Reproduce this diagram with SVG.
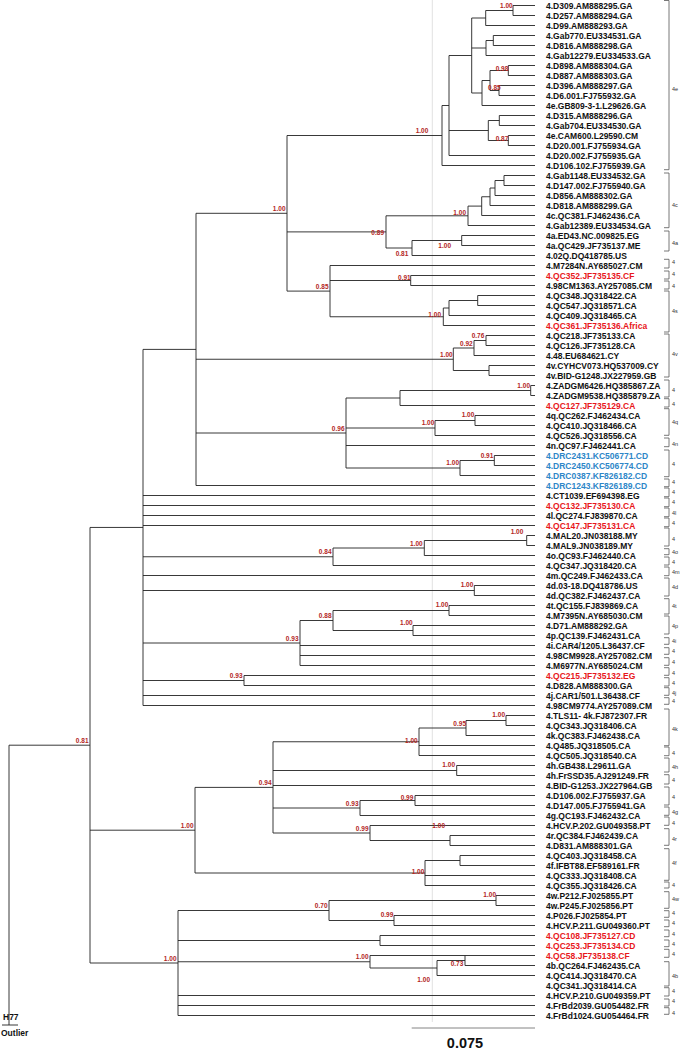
<svg xmlns="http://www.w3.org/2000/svg" width="682" height="1050" viewBox="0 0 682 1050">
<style>
.br{stroke:#222;stroke-width:0.9;fill:none}
.bk{stroke:#555;stroke-width:0.8;fill:none}
.lf{font-family:"Liberation Sans",Arial,sans-serif;font-weight:bold;font-size:8.5px;fill:#111}
.red{fill:#e8161b}
.blue{fill:#2d86c8}
.nl{font-family:"Liberation Sans",Arial,sans-serif;font-weight:bold;font-size:6.5px;fill:#b3261e;text-anchor:end}
.bl{font-family:"Liberation Sans",Arial,sans-serif;font-size:5.5px;fill:#333}
</style>
<rect width="682" height="1050" fill="#fff"/>
<line x1="432.3" y1="0" x2="432.3" y2="1022" stroke="#ccc" stroke-width="0.6"/>
<g id="connectors">
<path class="br" d="M513,5.5V15.5M513,5.5H535M513,15.5H535M485.7,10.5H513
M485.7,10.5V25.5M485.7,25.5H535M471.7,18H485.7
M493.3,35.5V45.5M493.3,35.5H535M493.3,45.5H535M486,40.5H493.3
M486,40.5V55.5M486,55.5H535M471.7,48H486
M508.3,65.5V75.5M508.3,65.5H535M508.3,75.5H535M490,70.5H508.3
M499,85.5V95.5M499,85.5H535M499,95.5H535M490,90.5H499
M490,70.5V90.5M482,80.5H490
M482,80.5V105.5M482,105.5H535M471.7,93H482
M471.7,18V93M449,55.5H471.7
M499.3,115.5V125.5M499.3,115.5H535M499.3,125.5H535M488.3,120.5H499.3
M508.3,135.5V145.5M508.3,135.5H535M508.3,145.5H535M488.3,140.5H508.3
M488.3,120.5V140.5M449,130.5H488.3
M449,55.5V155.5M449,155.5H535M442,105.5H449
M442,105.5V165.5M442,165.5H535M287,135.5H442
M504,175.5V185.5M504,175.5H535M504,185.5H535M495,180.5H504
M495,180.5V195.5M495,195.5H535M490,188H495
M490,188V205.5M490,205.5H535M481.7,196.75H490
M481.7,196.75V215.5M481.7,215.5H535M468,206.1H481.7
M468,206.1V225.5M468,225.5H535M386,215.8H468
M461.7,235.5V245.5M461.7,235.5H535M461.7,245.5H535M412,240.5H461.7
M412,240.5V255.5M412,255.5H535M386,248H412
M386,215.8V248M287,231.9H386
M287,135.5V291.1M287,291.1H330M196,213.3H287
M330,265.5V316.75M330,265.5H535
M410.7,275.5V285.5M410.7,275.5H535M410.7,285.5H535M330,280.5H410.7
M477.7,295.5V305.5M477.7,295.5H535M477.7,305.5H535M449,300.5H477.7
M449,300.5V315.5M449,315.5H535M443.3,308H449
M443.3,308V325.5M443.3,325.5H535M330,316.75H443.3
M486,335.5V345.5M486,335.5H535M486,345.5H535M474,340.5H486
M474,340.5V355.5M474,355.5H535M453.3,348H474
M489,365.5V375.5M489,365.5H535M489,375.5H535M453.3,370.5H489
M453.3,348V370.5M196,359.25H453.3
M530.7,385.5V395.5M530.7,385.5H535M530.7,395.5H535M400,390.5H530.7
M400,390.5V405.5M400,405.5H535M346,398H400
M475,415.5V425.5M475,415.5H535M475,425.5H535M435,420.5H475
M435,420.5V435.5M435,435.5H535M346,428H435
M346,445.5H535
M494.3,455.5V465.5M494.3,455.5H535M494.3,465.5H535M460,460.5H494.3
M460,460.5V475.5M460,475.5H535M346,468H460
M346,398V468M196,433H346
M196,485.5H535
M196,213.3V485.5M143,349.4H196
M143,495.5H535M143,505.5H535M143,515.5H535M143,525.5H535
M526.7,535.5V545.5M526.7,535.5H535M526.7,545.5H535M424.3,540.5H526.7
M424.3,540.5V555.5M424.3,555.5H535M333,548H424.3
M333,548V565.5M333,565.5H535M143,556.75H333
M143,575.5H535
M474.3,585.5V595.5M474.3,585.5H535M474.3,595.5H535M143,590.5H474.3
M449,605.5V615.5M449,605.5H535M449,615.5H535M333,610.5H449
M413,625.5V635.5M413,625.5H535M413,635.5H535M333,630.5H413
M333,610.5V630.5M300,620.5H333
M300,620.5V665.5M300,645.5H535M300,655.5H535M300,665.5H535M143,643H300
M244,675.5V685.5M244,675.5H535M244,685.5H535M143,680.5H244
M143,695.5H535M143,705.5H535
M143,349.4V705.5M90,527.45H143
M506,715.5V725.5M506,715.5H535M506,725.5H535M466,720.5H506
M466,720.5V735.5M466,735.5H535M419,728H466
M419,728V755.5M419,745.5H535M419,755.5H535M273,741.75H419
M456.7,765.5V775.5M456.7,765.5H535M456.7,775.5H535M273,770.5H456.7
M273,785.5H535
M415,795.5V805.5M415,795.5H535M415,805.5H535M360,800.5H415
M360,800.5V815.5M360,815.5H535M273,808H360
M450,835.5V845.5M450,835.5H535M450,845.5H535M370,840.5H450
M370,825.5V840.5M370,825.5H535M273,833H370
M273,741.75V833M195,787.4H273
M460,855.5V865.5M460,855.5H535M460,865.5H535M425,860.5H460
M425,860.5V885.5M425,875.5H535M425,885.5H535M195,873H425
M195,787.4V873M90,830.2H195
M496,895.5V905.5M496,895.5H535M496,905.5H535M329,900.5H496
M394,915.5V925.5M394,915.5H535M394,925.5H535M329,920.5H394
M329,900.5V920.5M178,910.5H329
M380,935.5V945.5M380,935.5H535M380,945.5H535M178,940.5H380
M465,955.5V965.5M465,965.5H535M437,960.5H465
M437,960.5V975.5M437,975.5H535M370,968H437
M370,955.5V968M370,955.5H535M178,961.75H370
M178,995.5H535M178,1005.5H535M178,1015.5H535
M178,910.5V1015.5M90,963H178
M90,527.45V963M9,745.2H90
M9,745.2V1025M2,1025H18"/>
<path d="M411.7,1028H535" stroke="#777" stroke-width="0.9"/>
</g>
<g id="support-labels">
<text class="nl" x="512.7" y="7.8">1.00</text>
<text class="nl" x="508.3" y="71.2">0.98</text>
<text class="nl" x="500.7" y="89.8">0.85</text>
<text class="nl" x="508.3" y="140.5">0.87</text>
<text class="nl" x="428.3" y="133.2">1.00</text>
<text class="nl" x="466" y="215.2">1.00</text>
<text class="nl" x="384" y="235.2">0.89</text>
<text class="nl" x="451" y="247.5">1.00</text>
<text class="nl" x="408.3" y="255.8">0.81</text>
<text class="nl" x="410.7" y="279.8">0.91</text>
<text class="nl" x="441" y="316.5">1.00</text>
<text class="nl" x="484.3" y="338">0.76</text>
<text class="nl" x="472.7" y="345.8">0.92</text>
<text class="nl" x="452.7" y="357.2">1.00</text>
<text class="nl" x="530" y="387.8">1.00</text>
<text class="nl" x="474.3" y="417.2">1.00</text>
<text class="nl" x="434.3" y="425.2">1.00</text>
<text class="nl" x="493.3" y="457.5">0.91</text>
<text class="nl" x="459" y="465.2">1.00</text>
<text class="nl" x="523.3" y="533.8">1.00</text>
<text class="nl" x="422.7" y="545.5">1.00</text>
<text class="nl" x="473.3" y="586.5">1.00</text>
<text class="nl" x="448.3" y="606.5">1.00</text>
<text class="nl" x="412.7" y="625.2">1.00</text>
<text class="nl" x="505" y="717.2">1.00</text>
<text class="nl" x="466" y="725.5">0.95</text>
<text class="nl" x="417.7" y="743.2">1.00</text>
<text class="nl" x="455" y="767.2">1.00</text>
<text class="nl" x="413.3" y="799.5">0.99</text>
<text class="nl" x="445" y="827.8">1.00</text>
<text class="nl" x="424.3" y="873.8">1.00</text>
<text class="nl" x="496" y="896.5">1.00</text>
<text class="nl" x="393.3" y="916.5">0.99</text>
<text class="nl" x="463.3" y="965.8">0.73</text>
<text class="nl" x="430" y="981.8">1.00</text>
<text class="nl" x="285.5" y="210.8">1.00</text>
<text class="nl" x="328.5" y="288.6">0.85</text>
<text class="nl" x="344.5" y="430.5">0.96</text>
<text class="nl" x="331.5" y="554.3">0.84</text>
<text class="nl" x="331.5" y="618">0.88</text>
<text class="nl" x="298.5" y="640.5">0.93</text>
<text class="nl" x="242.5" y="678">0.93</text>
<text class="nl" x="88.5" y="742.7">0.81</text>
<text class="nl" x="271.5" y="784.9">0.94</text>
<text class="nl" x="358.5" y="805.5">0.93</text>
<text class="nl" x="368.5" y="830.5">0.99</text>
<text class="nl" x="193.5" y="827.7">1.00</text>
<text class="nl" x="327.5" y="908">0.70</text>
<text class="nl" x="368.5" y="959.3">1.00</text>
<text class="nl" x="176.5" y="960.5">1.00</text>
</g>
<g id="leaves">
<g id="n1"><text class="lf" x="546" y="8.5">4.D309.AM888295.GA</text></g>
<g id="n2"><text class="lf" x="546" y="18.5">4.D257.AM888294.GA</text></g>
<g id="n3"><text class="lf" x="546" y="28.5">4.D99.AM888293.GA</text></g>
<g id="n4"><text class="lf" x="546" y="38.5">4.Gab770.EU334531.GA</text></g>
<g id="n5"><text class="lf" x="546" y="48.5">4.D816.AM888298.GA</text></g>
<g id="n6"><text class="lf" x="546" y="58.5">4.Gab12279.EU334533.GA</text></g>
<g id="n7"><text class="lf" x="546" y="68.5">4.D898.AM888304.GA</text></g>
<g id="n8"><text class="lf" x="546" y="78.5">4.D887.AM888303.GA</text></g>
<g id="n9"><text class="lf" x="546" y="88.5">4.D396.AM888297.GA</text></g>
<g id="n10"><text class="lf" x="546" y="98.5">4.D6.001.FJ755932.GA</text></g>
<g id="n11"><text class="lf" x="546" y="108.5">4e.GB809-3-1.L29626.GA</text></g>
<g id="n12"><text class="lf" x="546" y="118.5">4.D315.AM888296.GA</text></g>
<g id="n13"><text class="lf" x="546" y="128.5">4.Gab704.EU334530.GA</text></g>
<g id="n14"><text class="lf" x="546" y="138.5">4e.CAM600.L29590.CM</text></g>
<g id="n15"><text class="lf" x="546" y="148.5">4.D20.001.FJ755934.GA</text></g>
<g id="n16"><text class="lf" x="546" y="158.5">4.D20.002.FJ755935.GA</text></g>
<g id="n17"><text class="lf" x="546" y="168.5">4.D106.102.FJ755939.GA</text></g>
<g id="n18"><text class="lf" x="546" y="178.5">4.Gab1148.EU334532.GA</text></g>
<g id="n19"><text class="lf" x="546" y="188.5">4.D147.002.FJ755940.GA</text></g>
<g id="n20"><text class="lf" x="546" y="198.5">4.D856.AM888302.GA</text></g>
<g id="n21"><text class="lf" x="546" y="208.5">4.D818.AM888299.GA</text></g>
<g id="n22"><text class="lf" x="546" y="218.5">4c.QC381.FJ462436.CA</text></g>
<g id="n23"><text class="lf" x="546" y="228.5">4.Gab12389.EU334534.GA</text></g>
<g id="n24"><text class="lf" x="546" y="238.5">4a.ED43.NC.009825.EG</text></g>
<g id="n25"><text class="lf" x="546" y="248.5">4a.QC429.JF735137.ME</text></g>
<g id="n26"><text class="lf" x="546" y="258.5">4.02Q.DQ418785.US</text></g>
<g id="n27"><text class="lf" x="546" y="268.5">4.M7284N.AY685027.CM</text></g>
<g id="n28"><text class="lf red" x="546" y="278.5">4.QC352.JF735135.CF</text></g>
<g id="n29"><text class="lf" x="546" y="288.5">4.98CM1363.AY257085.CM</text></g>
<g id="n30"><text class="lf" x="546" y="298.5">4.QC348.JQ318422.CA</text></g>
<g id="n31"><text class="lf" x="546" y="308.5">4.QC547.JQ318571.CA</text></g>
<g id="n32"><text class="lf" x="546" y="318.5">4.QC409.JQ318465.CA</text></g>
<g id="n33"><text class="lf red" x="546" y="328.5">4.QC361.JF735136.Africa</text></g>
<g id="n34"><text class="lf" x="546" y="338.5">4.QC218.JF735133.CA</text></g>
<g id="n35"><text class="lf" x="546" y="348.5">4.QC126.JF735128.CA</text></g>
<g id="n36"><text class="lf" x="546" y="358.5">4.48.EU684621.CY</text></g>
<g id="n37"><text class="lf" x="546" y="368.5">4v.CYHCV073.HQ537009.CY</text></g>
<g id="n38"><text class="lf" x="546" y="378.5">4v.BID-G1248.JX227959.GB</text></g>
<g id="n39"><text class="lf" x="546" y="388.5">4.ZADGM6426.HQ385867.ZA</text></g>
<g id="n40"><text class="lf" x="546" y="398.5">4.ZADGM9538.HQ385879.ZA</text></g>
<g id="n41"><text class="lf red" x="546" y="408.5">4.QC127.JF735129.CA</text></g>
<g id="n42"><text class="lf" x="546" y="418.5">4q.QC262.FJ462434.CA</text></g>
<g id="n43"><text class="lf" x="546" y="428.5">4.QC410.JQ318466.CA</text></g>
<g id="n44"><text class="lf" x="546" y="438.5">4.QC526.JQ318556.CA</text></g>
<g id="n45"><text class="lf" x="546" y="448.5">4n.QC97.FJ462441.CA</text></g>
<g id="n46"><text class="lf blue" x="546" y="458.5">4.DRC2431.KC506771.CD</text></g>
<g id="n47"><text class="lf blue" x="546" y="468.5">4.DRC2450.KC506774.CD</text></g>
<g id="n48"><text class="lf blue" x="546" y="478.5">4.DRC0387.KF826182.CD</text></g>
<g id="n49"><text class="lf blue" x="546" y="488.5">4.DRC1243.KF826189.CD</text></g>
<g id="n50"><text class="lf" x="546" y="498.5">4.CT1039.EF694398.EG</text></g>
<g id="n51"><text class="lf red" x="546" y="508.5">4.QC132.JF735130.CA</text></g>
<g id="n52"><text class="lf" x="546" y="518.5">4l.QC274.FJ839870.CA</text></g>
<g id="n53"><text class="lf red" x="546" y="528.5">4.QC147.JF735131.CA</text></g>
<g id="n54"><text class="lf" x="546" y="538.5">4.MAL20.JN038188.MY</text></g>
<g id="n55"><text class="lf" x="546" y="548.5">4.MAL9.JN038189.MY</text></g>
<g id="n56"><text class="lf" x="546" y="558.5">4o.QC93.FJ462440.CA</text></g>
<g id="n57"><text class="lf" x="546" y="568.5">4.QC347.JQ318420.CA</text></g>
<g id="n58"><text class="lf" x="546" y="578.5">4m.QC249.FJ462433.CA</text></g>
<g id="n59"><text class="lf" x="546" y="588.5">4d.03-18.DQ418786.US</text></g>
<g id="n60"><text class="lf" x="546" y="598.5">4d.QC382.FJ462437.CA</text></g>
<g id="n61"><text class="lf" x="546" y="608.5">4t.QC155.FJ839869.CA</text></g>
<g id="n62"><text class="lf" x="546" y="618.5">4.M7395N.AY685030.CM</text></g>
<g id="n63"><text class="lf" x="546" y="628.5">4.D71.AM888292.GA</text></g>
<g id="n64"><text class="lf" x="546" y="638.5">4p.QC139.FJ462431.CA</text></g>
<g id="n65"><text class="lf" x="546" y="648.5">4i.CAR4/1205.L36437.CF</text></g>
<g id="n66"><text class="lf" x="546" y="658.5">4.98CM9928.AY257082.CM</text></g>
<g id="n67"><text class="lf" x="546" y="668.5">4.M6977N.AY685024.CM</text></g>
<g id="n68"><text class="lf red" x="546" y="678.5">4.QC215.JF735132.EG</text></g>
<g id="n69"><text class="lf" x="546" y="688.5">4.D828.AM888300.GA</text></g>
<g id="n70"><text class="lf" x="546" y="698.5">4j.CAR1/501.L36438.CF</text></g>
<g id="n71"><text class="lf" x="546" y="708.5">4.98CM9774.AY257089.CM</text></g>
<g id="n72"><text class="lf" x="546" y="718.5">4.TLS11- 4k.FJ872307.FR</text></g>
<g id="n73"><text class="lf" x="546" y="728.5">4.QC343.JQ318406.CA</text></g>
<g id="n74"><text class="lf" x="546" y="738.5">4k.QC383.FJ462438.CA</text></g>
<g id="n75"><text class="lf" x="546" y="748.5">4.Q485.JQ318505.CA</text></g>
<g id="n76"><text class="lf" x="546" y="758.5">4.QC505.JQ318540.CA</text></g>
<g id="n77"><text class="lf" x="546" y="768.5">4h.GB438.L29611.GA</text></g>
<g id="n78"><text class="lf" x="546" y="778.5">4h.FrSSD35.AJ291249.FR</text></g>
<g id="n79"><text class="lf" x="546" y="788.5">4.BID-G1253.JX227964.GB</text></g>
<g id="n80"><text class="lf" x="546" y="798.5">4.D106.002.FJ755937.GA</text></g>
<g id="n81"><text class="lf" x="546" y="808.5">4.D147.005.FJ755941.GA</text></g>
<g id="n82"><text class="lf" x="546" y="818.5">4g.QC193.FJ462432.CA</text></g>
<g id="n83"><text class="lf" x="546" y="828.5">4.HCV.P.202.GU049358.PT</text></g>
<g id="n84"><text class="lf" x="546" y="838.5">4r.QC384.FJ462439.CA</text></g>
<g id="n85"><text class="lf" x="546" y="848.5">4.D831.AM888301.GA</text></g>
<g id="n86"><text class="lf" x="546" y="858.5">4.QC403.JQ318458.CA</text></g>
<g id="n87"><text class="lf" x="546" y="868.5">4f.IFBT88.EF589161.FR</text></g>
<g id="n88"><text class="lf" x="546" y="878.5">4.QC333.JQ318408.CA</text></g>
<g id="n89"><text class="lf" x="546" y="888.5">4.QC355.JQ318426.CA</text></g>
<g id="n90"><text class="lf" x="546" y="898.5">4w.P212.FJ025855.PT</text></g>
<g id="n91"><text class="lf" x="546" y="908.5">4w.P245.FJ025856.PT</text></g>
<g id="n92"><text class="lf" x="546" y="918.5">4.P026.FJ025854.PT</text></g>
<g id="n93"><text class="lf" x="546" y="928.5">4.HCV.P.211.GU049360.PT</text></g>
<g id="n94"><text class="lf red" x="546" y="938.5">4.QC108.JF735127.CD</text></g>
<g id="n95"><text class="lf red" x="546" y="948.5">4.QC253.JF735134.CD</text></g>
<g id="n96"><text class="lf red" x="546" y="958.5">4.QC58.JF735138.CF</text></g>
<g id="n97"><text class="lf" x="546" y="968.5">4b.QC264.FJ462435.CA</text></g>
<g id="n98"><text class="lf" x="546" y="978.5">4.QC414.JQ318470.CA</text></g>
<g id="n99"><text class="lf" x="546" y="988.5">4.QC341.JQ318414.CA</text></g>
<g id="n100"><text class="lf" x="546" y="998.5">4.HCV.P.210.GU049359.PT</text></g>
<g id="n101"><text class="lf" x="546" y="1008.5">4.FrBd2039.GU054482.FR</text></g>
<g id="n102"><text class="lf" x="546" y="1018.5">4.FrBd1024.GU054464.FR</text></g>
<g id="outgroup"><text class="lf" x="3" y="1020" font-size="7">H77</text><text class="lf" x="1" y="1036" font-size="7">Outlier</text></g>
</g>
<g id="brackets">
<path class="bk" d="M664,0.5H669V169.7H664M664,173H669V227.7H664M664,231H669V251H664M664,259.3H669V268H664M664,271H669V279H664M664,281H669V289H664M664,291H669V332H664M664,334H669V377H664M664,380H669V397H664M664,398.7H669V407H664M664,408.7H669V435.3H664M664,438H669V446.7H664M664,450H669V476.7H664M664,479H669V486.7H664M664,488H669V496.7H664M664,498H669V506.7H664M664,508H669V516.7H664M664,518H669V526.7H664M664,528H669V546H664M664,548.7H669V554.7H664M664,557H669V565H664M664,567H669V575.7H664M664,578H669V596H664M664,598.7H669V614H664M664,616H669V634H664M664,637.7H669V644.3H664M664,647.7H669V654.3H664M664,657.7H669V665.3H664M664,667.7H669V675.3H664M664,677.7H669V686H664M664,687.7H669V695.3H664M664,697.7H669V704.3H664M664,709H669V745.7H664M664,747H669V755.7H664M664,758H669V772H664M664,774.7H669V784H664M664,787H669V805H664M664,807H669V815.3H664M664,817H669V825.3H664M664,828.7H669V845.3H664M664,848.7H669V880.3H664M664,882H669V888H664M664,891.7H669V908.3H664M664,910.7H669V917.3H664M664,920H669V926.7H664M664,930H669V936.7H664M664,940H669V946.7H664M664,949.3H669V957.3H664M664,961.7H669V986H664M664,987.7H669V996H664M664,999H669V1006H664M664,1007.7H669V1014.3H664"/>
<text class="bl" x="672" y="91.3">4e</text>
<text class="bl" x="672" y="207">4c</text>
<text class="bl" x="672" y="244.5">4a</text>
<text class="bl" x="672" y="264">4</text>
<text class="bl" x="672" y="276">4</text>
<text class="bl" x="672" y="287.7">4</text>
<text class="bl" x="672" y="313.3" fill="#e8161b">4s</text>
<text class="bl" x="672" y="355.7">4v</text>
<text class="bl" x="672" y="392">4</text>
<text class="bl" x="672" y="405.7">4</text>
<text class="bl" x="672" y="424">4q</text>
<text class="bl" x="672" y="446.3">4n</text>
<text class="bl" x="672" y="466">4</text>
<text class="bl" x="672" y="483.7">4</text>
<text class="bl" x="672" y="494.3">4</text>
<text class="bl" x="672" y="504.3">4</text>
<text class="bl" x="672" y="514.7">4l</text>
<text class="bl" x="672" y="524.7">4</text>
<text class="bl" x="672" y="540.7">4</text>
<text class="bl" x="672" y="554">4o</text>
<text class="bl" x="672" y="564.3">4</text>
<text class="bl" x="672" y="574.3">4m</text>
<text class="bl" x="672" y="588.7">4d</text>
<text class="bl" x="672" y="608">4t</text>
<text class="bl" x="672" y="628">4p</text>
<text class="bl" x="672" y="643">4i</text>
<text class="bl" x="672" y="653">4</text>
<text class="bl" x="672" y="663.7">4</text>
<text class="bl" x="672" y="674.7">4</text>
<text class="bl" x="672" y="684.7">4</text>
<text class="bl" x="672" y="695.3">4j</text>
<text class="bl" x="672" y="703">4</text>
<text class="bl" x="672" y="731">4k</text>
<text class="bl" x="672" y="755.3">4</text>
<text class="bl" x="672" y="769.3">4h</text>
<text class="bl" x="672" y="782">4</text>
<text class="bl" x="672" y="799">4</text>
<text class="bl" x="672" y="814">4g</text>
<text class="bl" x="672" y="825">4</text>
<text class="bl" x="672" y="840.7">4r</text>
<text class="bl" x="672" y="864.7">4f</text>
<text class="bl" x="672" y="887">4</text>
<text class="bl" x="672" y="901.3">4w</text>
<text class="bl" x="672" y="914.7">4</text>
<text class="bl" x="672" y="924.7">4</text>
<text class="bl" x="672" y="936">4</text>
<text class="bl" x="672" y="946.3">4</text>
<text class="bl" x="672" y="956">4</text>
<text class="bl" x="672" y="978">4b</text>
<text class="bl" x="672" y="993">4</text>
<text class="bl" x="672" y="1003">4</text>
<text class="bl" x="672" y="1015.3">4</text>
</g>
<g id="scale"><text x="465" y="1048" font-family="Liberation Sans, Arial, sans-serif" font-weight="bold" font-size="14.5" text-anchor="middle" fill="#111">0.075</text></g>
</svg>
